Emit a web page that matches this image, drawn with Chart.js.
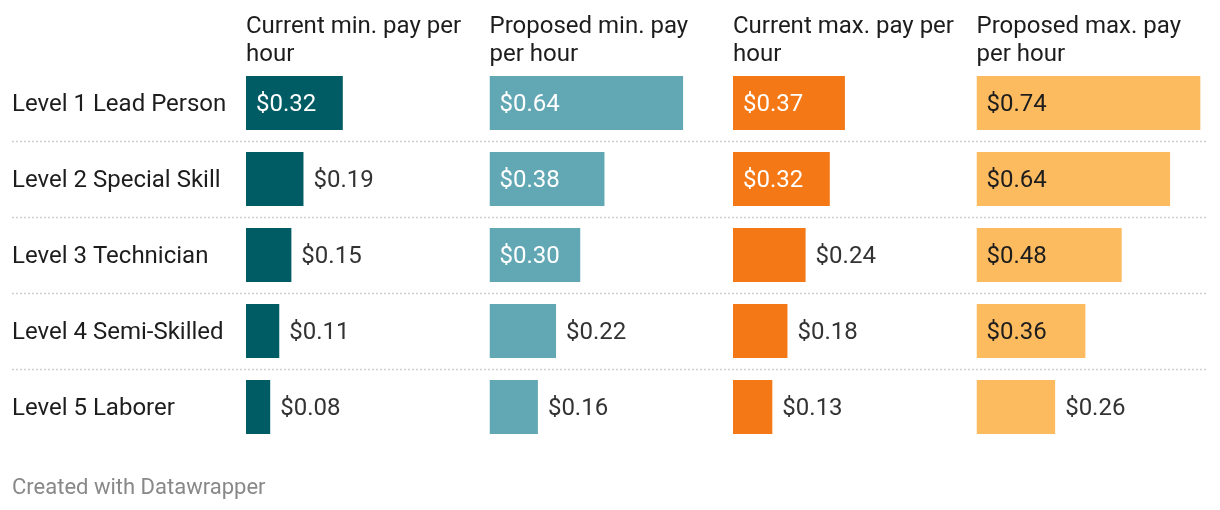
<!DOCTYPE html>
<html>
<head>
<meta charset="utf-8">
<script src="https://cdn.jsdelivr.net/npm/chart.js@4"></script>
<style>
  body { margin: 0; background: #fff; }
</style>
</head>
<body>
<canvas id="grafico" width="1220" height="510"></canvas>
<script>
var niveles = ['Level 1 Lead Person', 'Level 2 Special Skill', 'Level 3 Technician', 'Level 4 Semi-Skilled', 'Level 5 Laborer'];
var titulos = [
  ['Current min. pay per', 'hour'],
  ['Proposed min. pay', 'per hour'],
  ['Current max. pay per', 'hour'],
  ['Proposed max. pay', 'per hour']
];
var minActual = [0.32, 0.19, 0.15, 0.11, 0.08];
var minPropuesto = [0.64, 0.38, 0.30, 0.22, 0.16];
var maxActual = [0.37, 0.32, 0.24, 0.18, 0.13];
var maxPropuesto = [0.74, 0.64, 0.48, 0.36, 0.26];

var series = [minActual, minPropuesto, maxActual, maxPropuesto];
var colores = ['#005c64', '#62a8b4', '#f47916', '#fdbb5f'];
var colorTextoDentro = ['#ffffff', '#ffffff', '#ffffff', '#1d1d1d'];
var fuente = 'Roboto, "Noto Sans", sans-serif';

// lineas punteadas entre filas
var separadores = {
  id: 'separadores',
  beforeDatasetsDraw: function(chart) {
    var ctx = chart.ctx;
    var y = chart.scales.y;
    ctx.save();
    ctx.strokeStyle = '#cfcfcf';
    ctx.lineWidth = 1.5;
    ctx.setLineDash([2, 2]);
    for (var i = 0; i < niveles.length - 1; i++) {
      var yy = Math.round((y.getPixelForValue(i) + y.getPixelForValue(i + 1)) / 2) + 0.5;
      ctx.beginPath();
      ctx.moveTo(12, yy);
      ctx.lineTo(1208, yy);
      ctx.stroke();
    }
    ctx.restore();
  }
};

// etiquetas de valores dentro o fuera de la barra
var etiquetas = {
  id: 'etiquetas',
  afterDatasetsDraw: function(chart) {
    var ctx = chart.ctx;
    ctx.save();
    ctx.font = '24px ' + fuente;
    ctx.textBaseline = 'middle';
    ctx.textAlign = 'left';
    chart.data.datasets.forEach(function(ds, d) {
      var meta = chart.getDatasetMeta(d);
      meta.data.forEach(function(bar, i) {
        var texto = '$' + ds.data[i].toFixed(2);
        var ancho = bar.x - bar.base;
        var tw = ctx.measureText(texto).width;
        if (ancho >= tw + 28) {
          ctx.fillStyle = colorTextoDentro[d];
          ctx.fillText(texto, bar.base + 10, bar.y + 2);
        } else {
          ctx.fillStyle = '#333333';
          ctx.fillText(texto, bar.x + 10, bar.y + 2);
        }
      });
    });
    ctx.restore();
  }
};

var datasets = [];
var scales = {
  y: {
    grid: { display: false },
    border: { display: false },
    ticks: {
      crossAlign: 'far',
      labelOffset: 2,
      color: '#1d1d1d',
      font: { family: fuente, size: 24 }
    },
    afterFit: function(scale) { scale.width = 234; }
  }
};

for (var s = 0; s < series.length; s++) {
  datasets.push({
    label: titulos[s].join(' '),
    data: series[s],
    xAxisID: 'x' + s,
    yAxisID: 'y',
    backgroundColor: colores[s],
    grouped: false,
    categoryPercentage: 1,
    barPercentage: 0.71
  });
}

// los ejes de arriba se colocan en orden inverso
for (var s = series.length - 1; s >= 0; s--) {
  scales['x' + s] = {
    type: 'linear',
    position: 'top',
    stack: 'columnas',
    stackWeight: 1,
    min: 0,
    max: 0.805,
    grid: { display: false },
    border: { display: false },
    ticks: { display: false },
    title: {
      display: true,
      text: titulos[s],
      align: 'start',
      color: '#1d1d1d',
      font: { family: fuente, size: 24, lineHeight: 1.17 },
      padding: { top: 13, bottom: 0 }
    },
    afterFit: function(scale) { scale.height = 65; }
  };
}

var contexto = document.getElementById('grafico').getContext('2d');
var chart = new Chart(contexto, {
  type: 'bar',
  data: { labels: niveles, datasets: datasets },
  options: {
    indexAxis: 'y',
    responsive: false,
    animation: false,
    layout: { padding: { left: 12, right: 0, top: 0, bottom: 0 } },
    scales: scales,
    plugins: {
      legend: { display: false },
      tooltip: { enabled: false },
      title: {
        display: true,
        text: 'Created with Datawrapper',
        position: 'bottom',
        align: 'start',
        color: '#888888',
        font: { family: fuente, size: 22, weight: 'normal', lineHeight: 1.2 },
        padding: { top: 30, bottom: 8.6 }
      }
    }
  },
  plugins: [separadores, etiquetas]
});
</script>
</body>
</html>
